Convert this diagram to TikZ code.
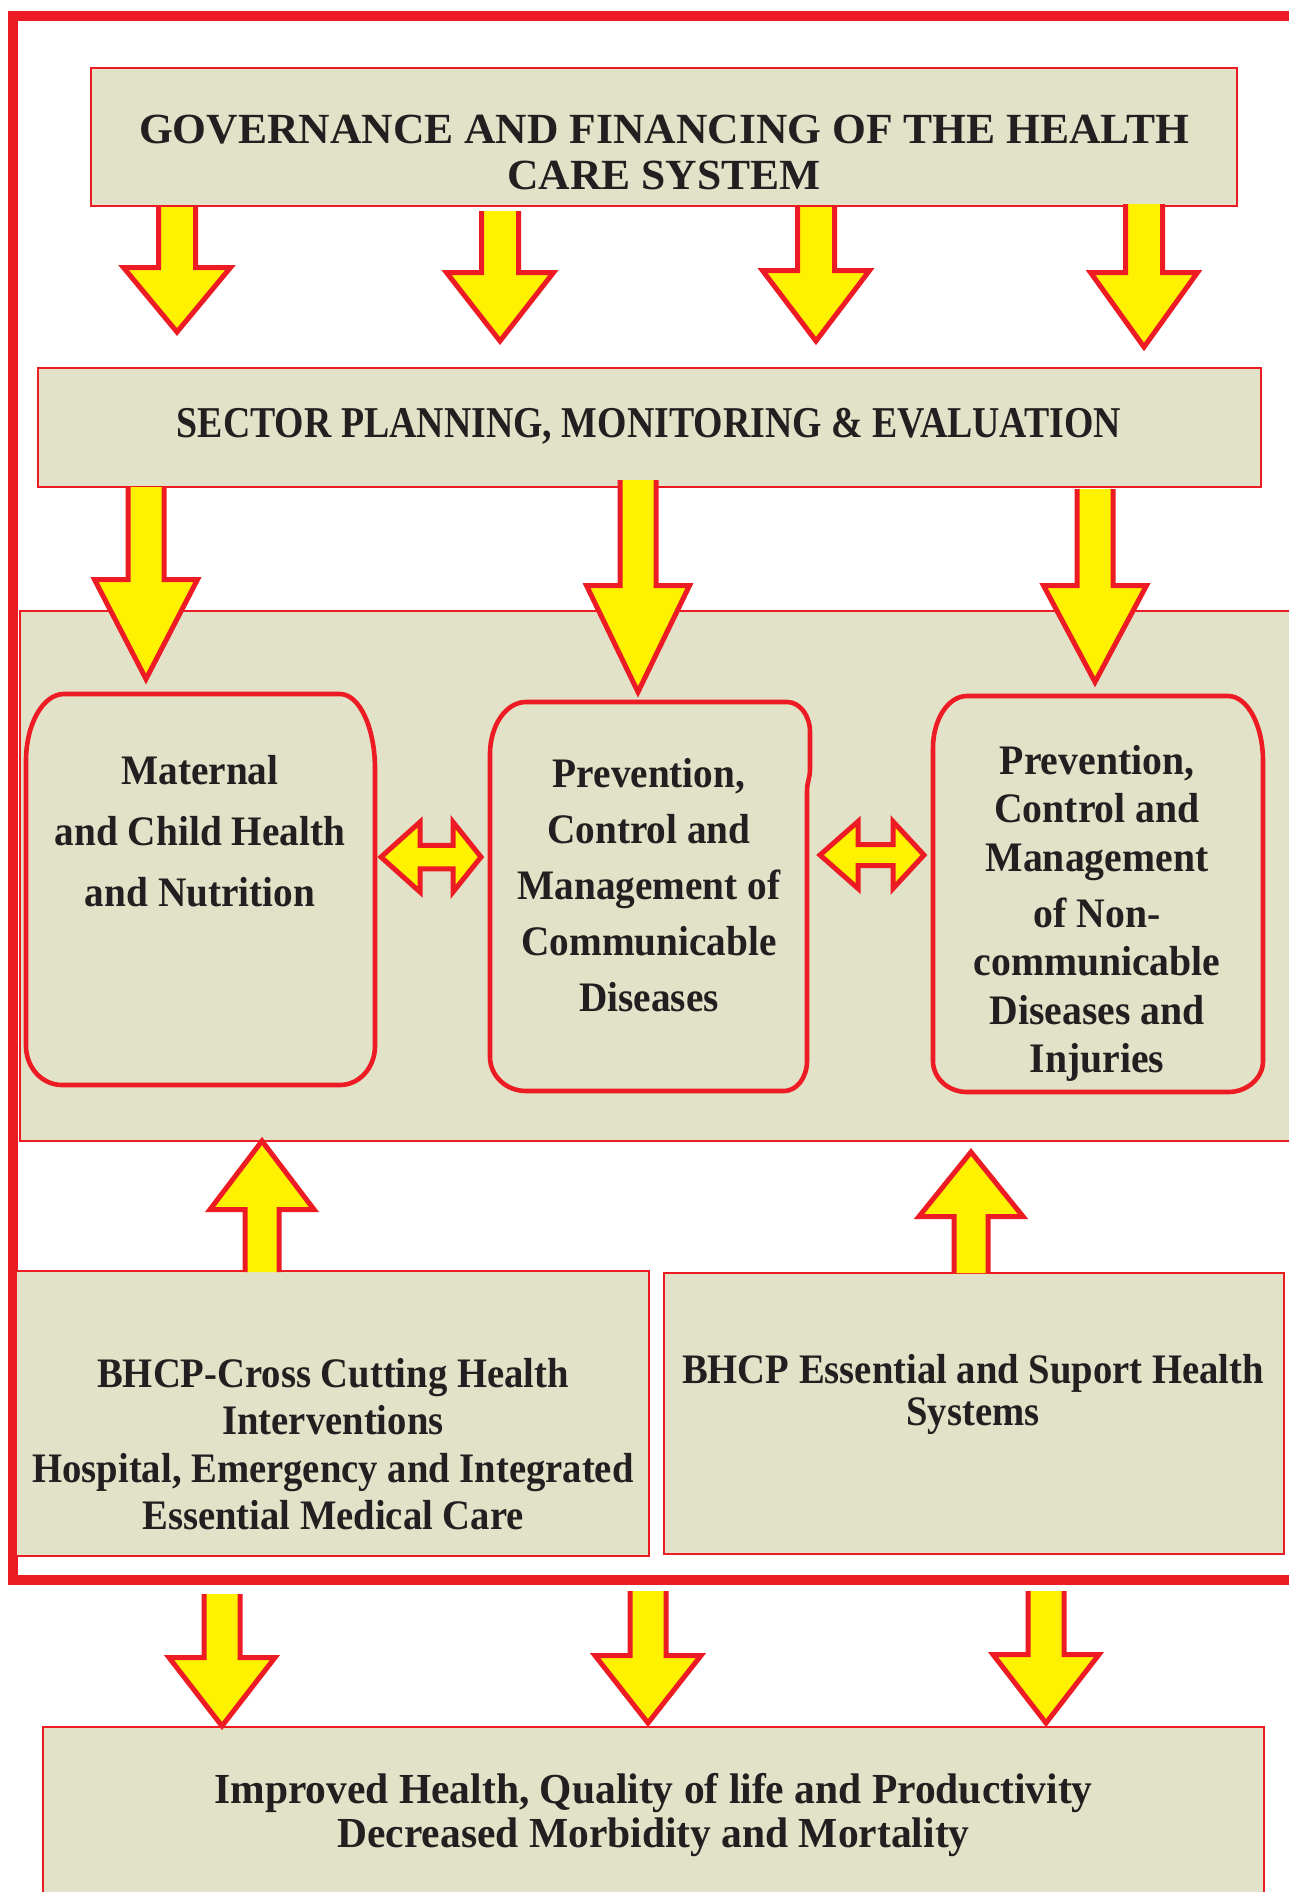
\documentclass[tikz,border=0pt]{standalone}
\usepackage{fontspec}
\setmainfont{Liberation Serif}
\usetikzlibrary{fit,calc}
\definecolor{fred}{HTML}{ED1C24}
\definecolor{fyel}{HTML}{FFF200}
\definecolor{fbeige}{RGB}{226,226,200}
\definecolor{ftext}{HTML}{231F20}
\newcommand\mltext[4]{\fontsize{#1}{#2}\selectfont\bfseries\addfontfeatures{FakeStretch=#3}\begin{tabular}[t]{@{}c@{}}#4\end{tabular}}
% vertical block arrow: top/bottom of shaft, tip, shaft half, head half, head length (signed)
\newcommand\vblock[5]{\filldraw[blockarrow] ($(#1)+(-#3,0)$) -- ($(#2)+(-#3,{-1*(#5)})$) -- ($(#2)+(-#4,{-1*(#5)})$) -- (#2) -- ($(#2)+(#4,{-1*(#5)})$) -- ($(#2)+(#3,{-1*(#5)})$) -- ($(#1)+(#3,0)$);}
% horizontal double arrow: left tip, right tip, left head len, right head len, head half, shaft half
\newcommand\dblock[6]{\filldraw[blockarrow] (#1) -- ($(#1)+(#3,-#5)$) -- ($(#1)+(#3,-#6)$) -- ($(#2)+(-#4,-#6)$) -- ($(#2)+(-#4,-#5)$) -- (#2) -- ($(#2)+(-#4,#5)$) -- ($(#2)+(-#4,#6)$) -- ($(#1)+(#3,#6)$) -- ($(#1)+(#3,#5)$) -- cycle;}
\begin{document}
\begin{tikzpicture}[x=0.5pt,y=-0.5pt,
  thinbox/.style={draw=fred,fill=fbeige,line width=0.8pt,inner sep=0pt},
  roundbox/.style={draw=fred,fill=fbeige,line width=2.3pt},
  outerframe/.style={draw=fred,line width=5pt,line join=miter},
  blockarrow/.style={draw=fred,fill=fyel,line width=2.5pt,line join=miter,miter limit=10},
  txt/.style={anchor=base,inner sep=0pt,text=ftext}]
\useasboundingbox (0,0) rectangle (1289,1892);
\fill[white] (0,0) rectangle (1289,1892);
% outer frame
\draw[outerframe] (1300,15.5) -- (12.5,15.5) -- (12.5,1580) -- (1300,1580);
% boxes
\node[thinbox,fit={(91,68) (1237,206)}] (gov) {};
\node[thinbox,fit={(38,368) (1261,487)}] (sector) {};
\node[thinbox,fit={(20,611) (1300,1141)}] (panel) {};
\node[inner sep=0pt,fit={(26,694) (375,1085)}] (mat) {};
\node[inner sep=0pt,fit={(490,702) (810,1091)}] (com) {};
\node[inner sep=0pt,fit={(933,696) (1263,1092)}] (ncd) {};
% rounded boxes with elliptic corners
\draw[roundbox] (64,694) -- (340,694) arc[start angle=270,end angle=360,x radius=35,y radius=75]
  -- (375,1046) arc[start angle=0,end angle=90,x radius=35,y radius=39]
  -- (62,1085) arc[start angle=90,end angle=180,x radius=36,y radius=39]
  -- (26,761) arc[start angle=180,end angle=270,x radius=38,y radius=67] -- cycle;
\draw[roundbox] (526,702) -- (787,702) arc[start angle=270,end angle=360,x radius=23,y radius=30]
  -- (810,768) .. controls (810,780) and (807,780) .. (807,792)
  -- (807,1061) arc[start angle=0,end angle=90,x radius=23,y radius=30]
  -- (526,1091) arc[start angle=90,end angle=180,x radius=36,y radius=34]
  -- (490,754) arc[start angle=180,end angle=270,x radius=36,y radius=52] -- cycle;
\draw[roundbox] (967,696) -- (1228,696) arc[start angle=270,end angle=360,x radius=35,y radius=65]
  -- (1263,1061) arc[start angle=0,end angle=90,x radius=35,y radius=31]
  -- (967,1092) arc[start angle=90,end angle=180,x radius=34,y radius=31]
  -- (933,748) arc[start angle=180,end angle=270,x radius=34,y radius=52] -- cycle;
\node[thinbox,fit={(16,1271) (649,1556)}] (cross) {};
\node[thinbox,fit={(664,1273) (1284,1554)}] (ess) {};
\node[thinbox,fit={(43,1727) (1264,1900)}] (imp) {};
% arrow coordinates
\coordinate (a1t) at (177,207);  \coordinate (a1p) at (177,332);
\coordinate (a2t) at (500,211);  \coordinate (a2p) at (500,341);
\coordinate (a3t) at (816,207);  \coordinate (a3p) at (816,341);
\coordinate (a4t) at (1144,204); \coordinate (a4p) at (1144,347);
\coordinate (b1t) at (146,487);  \coordinate (b1p) at (146,679);
\coordinate (b2t) at (638,480);  \coordinate (b2p) at (638,692);
\coordinate (b3t) at (1095,489); \coordinate (b3p) at (1095,682);
\coordinate (u1b) at (262,1272); \coordinate (u1p) at (262,1141);
\coordinate (u2b) at (971,1273); \coordinate (u2p) at (971,1152);
\coordinate (c1t) at (222,1594); \coordinate (c1p) at (222,1726);
\coordinate (c2t) at (648,1591); \coordinate (c2p) at (648,1723);
\coordinate (c3t) at (1046,1591);\coordinate (c3p) at (1046,1723);
\coordinate (d1l) at (381,857);  \coordinate (d1r) at (481,857);
\coordinate (d2l) at (820,855);  \coordinate (d2r) at (924,855);
% arrows
\vblock{a1t}{a1p}{18.5}{53.5}{64.5}
\vblock{a2t}{a2p}{18.5}{53.5}{68.5}
\vblock{a3t}{a3p}{18.5}{53.5}{70.5}
\vblock{a4t}{a4p}{18.5}{53.5}{74.5}
\vblock{b1t}{b1p}{18}{51.5}{99.5}
\vblock{b2t}{b2p}{18}{51.5}{106.5}
\vblock{b3t}{b3p}{18}{51.5}{96.5}
\vblock{u1b}{u1p}{17}{52}{-68.5}
\vblock{u2b}{u2p}{17}{52}{-64.5}
\vblock{c1t}{c1p}{18}{53}{68.5}
\vblock{c2t}{c2p}{18}{53}{67.5}
\vblock{c3t}{c3p}{18}{53}{68.5}
\dblock{d1l}{d1r}{39}{28}{35}{11.75}
\dblock{d2l}{d2r}{38}{31}{33.5}{10.5}
% texts
\node[txt] (tgov) at (664,143) {\mltext{21.5}{23}{1.013}{GOVERNANCE AND FINANCING OF THE HEALTH\\CARE SYSTEM}};
\node[txt] (tsec) at (649,437) {\mltext{22}{22}{0.86}{SECTOR PLANNING, MONITORING \& EVALUATION}};
\node[txt] (tmat) at (200,784) {\mltext{21}{30.5}{0.935}{Maternal\\and Child Health\\and Nutrition}};
\node[txt] (tcom) at (649,787) {\mltext{21}{28}{0.935}{Prevention,\\Control and\\Management of\\Communicable\\Diseases}};
\node[txt] (tncd) at (1097,774) {\mltext{21}{24.25}{0.945}{Prevention,\\Control and\\Management\\[3.75pt]of Non-\\communicable\\Diseases and\\Injuries}};
\node[txt] (tcro) at (333,1387) {\mltext{21}{23.8}{0.92}{BHCP-Cross Cutting Health\\Interventions\\Hospital, Emergency and Integrated\\Essential Medical Care}};
\node[txt] (tess) at (973,1383) {\mltext{21}{21}{0.92}{BHCP Essential and Suport Health\\Systems}};
\node[txt] (timp) at (653.5,1803) {\mltext{21.4}{22}{0.97}{Improved Health, Quality of life and Productivity\\Decreased Morbidity and Mortality}};
\end{tikzpicture}
\end{document}
